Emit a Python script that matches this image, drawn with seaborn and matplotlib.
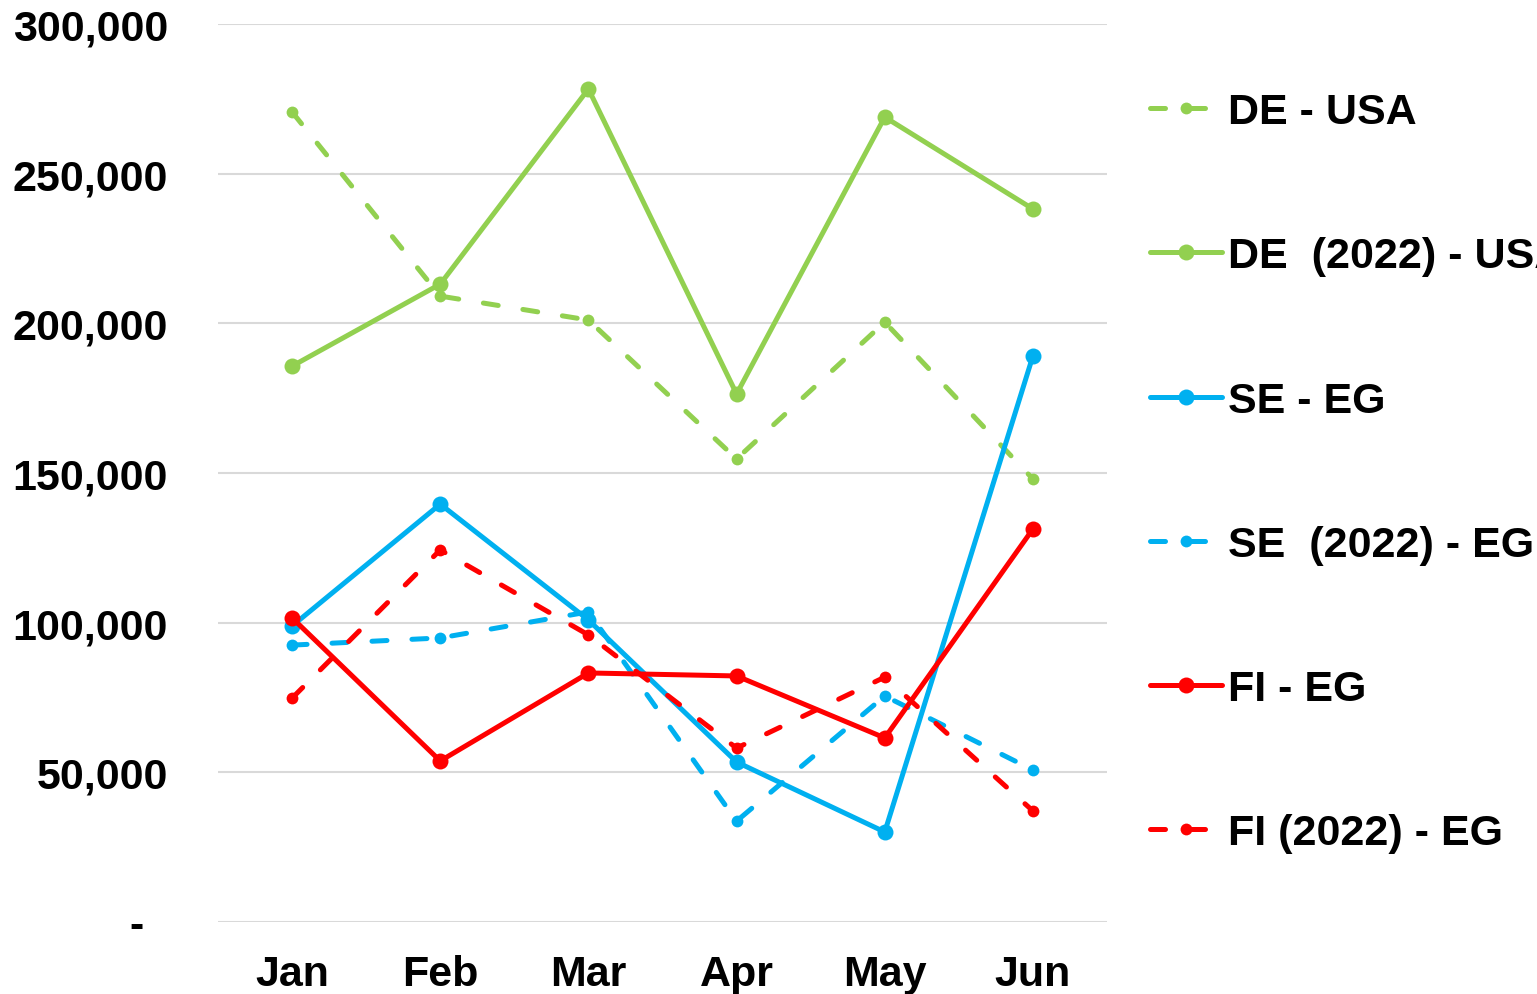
import matplotlib
matplotlib.use("Agg")
import matplotlib.pyplot as plt
import seaborn as sns
import pandas as pd
from matplotlib.ticker import FuncFormatter

months = ["Jan", "Feb", "Mar", "Apr", "May", "Jun"]

de_usa = [270600, 209100, 201100, 154700, 200400, 148000]
de_2022_usa = [185700, 213100, 278300, 176400, 268900, 238200]
se_eg = [98900, 139600, 100900, 53450, 30070, 189100]
se_2022_eg = [92500, 94900, 103600, 33700, 75500, 50800]
fi_eg = [101600, 53800, 83200, 82200, 61500, 131300]
fi_2022_eg = [74800, 124300, 95900, 58100, 81800, 37100]

labels = ["DE - USA", "DE  (2022) - USA", "SE - EG", "SE  (2022) - EG",
          "FI - EG", "FI (2022) - EG"]
series = [de_usa, de_2022_usa, se_eg, se_2022_eg, fi_eg, fi_2022_eg]
colors = ["#92D050", "#92D050", "#00B0F0", "#00B0F0", "#FF0000", "#FF0000"]
dashed = [True, False, False, True, False, True]

sns.set_style("white")
plt.rcParams["font.family"] = ["Liberation Sans", "DejaVu Sans"]
plt.rcParams["font.weight"] = "bold"
plt.rcParams["text.color"] = "black"
plt.rcParams["xtick.color"] = "black"
plt.rcParams["ytick.color"] = "black"

fig = plt.figure(figsize=(15.37, 9.95), dpi=100)
ax = fig.add_axes([218 / 1537, 1 - 923 / 995, 889 / 1537, 898 / 995])

# one lineplot call per series so each keeps its own dash style
handles = []
for lab, vals, col, dsh in zip(labels, series, colors, dashed):
    df = pd.DataFrame({"x": range(len(months)), "y": vals})
    sns.lineplot(data=df, x="x", y="y", ax=ax, color=col, lw=3.6,
                 linestyle=(0, (3.0, 5.0)) if dsh else "-",
                 dash_capstyle="round", solid_capstyle="round",
                 marker="o", markersize=8.5 if dsh else 11.5,
                 markeredgewidth=0, label=lab, legend=False)
    handles.append(ax.lines[-1])

ax.set_xlim(-0.5, 5.5)
ax.set_ylim(0, 300000)
ax.set_yticks(range(0, 300001, 50000))
ax.yaxis.set_major_formatter(FuncFormatter(lambda v, p: "-  " if v == 0 else f"{int(v):,}"))
ax.set_xticks(range(len(months)))
ax.set_xticklabels(months)
ax.set_xlabel("")
ax.set_ylabel("")
ax.grid(axis="y", color="#D9D9D9", lw=1.5)
ax.set_axisbelow(True)
for s in ax.spines.values():
    s.set_visible(False)
ax.tick_params(axis="y", length=0, pad=36, labelsize=31)
ax.tick_params(axis="x", length=0, pad=23, labelsize=31)
for t in ax.get_xticklabels() + ax.get_yticklabels():
    t.set_fontweight("bold")

leg = fig.legend(handles=handles, labels=labels, loc="upper left",
                 bbox_to_anchor=(1133 / 1537, 1 - 76 / 995), frameon=False,
                 prop={"size": 31, "weight": "bold"}, labelspacing=2.42,
                 handlelength=1.67, handletextpad=0.14, borderaxespad=0)

fig.savefig("out.png", dpi=100)
